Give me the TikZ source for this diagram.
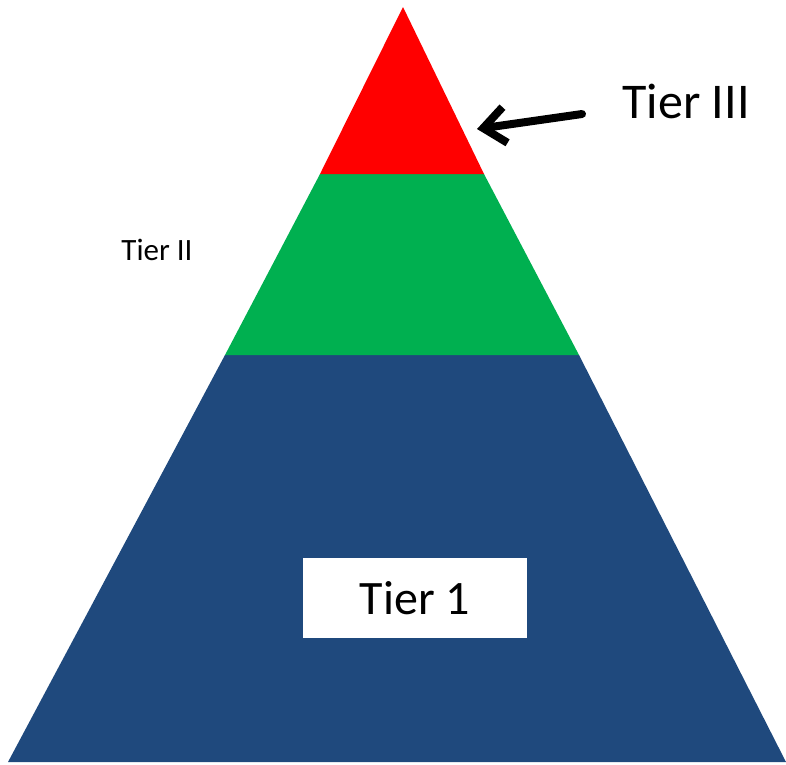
\documentclass[tikz,border=0pt]{standalone}
\usepackage{fontspec}
\setmainfont{Carlito}
\usetikzlibrary{arrows.meta}
\definecolor{tierred}{HTML}{FF0000}
\definecolor{tiergreen}{HTML}{00B050}
\definecolor{tierblue}{HTML}{1F497D}
\tikzset{
  label text/.style={inner sep=0pt, text=black},
  pointer/.style={line width=8pt, line cap=round, -{Straight Barb[length=22pt, width=36pt, line width=8pt]}},
}
\begin{document}
\begin{tikzpicture}[x=1pt,y=-1pt]
\useasboundingbox (0,0) rectangle (786,764);
% pyramid layers
\fill[tierblue] (225,355) -- (579,355) -- (786,762) -- (8,762) -- cycle;
\fill[tiergreen] (320,174) -- (484,174) -- (579,355) -- (225,355) -- cycle;
\fill[tierred] (403,7) -- (484,174) -- (320,174) -- cycle;
% Tier 1 box
\node[fill=white, minimum width=224pt, minimum height=80pt, inner sep=0pt, font=\fontsize{48}{56}\selectfont] (t1) at (415,598) {Tier 1};
% labels
\node[label text, font=\fontsize{31}{36}\selectfont] (t2) at (157,250) {Tier II};
\node[label text, font=\fontsize{50}{60}\selectfont] (t3) at (686,101) {Tier III};
\coordinate (tail) at (582,114);
\coordinate (tip) at (477,129);
\draw[pointer] (tail) -- (tip);
\end{tikzpicture}
\end{document}
